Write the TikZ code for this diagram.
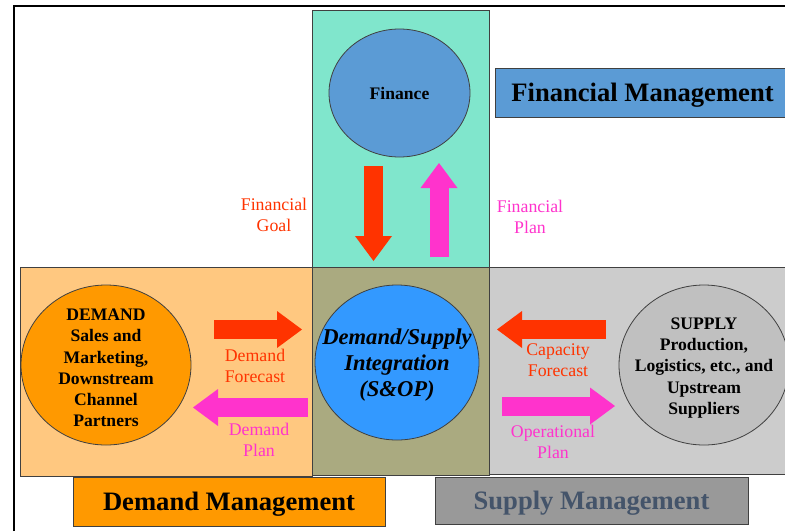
\documentclass[tikz,border=0pt]{standalone}
\usepackage{fontspec}
\setmainfont{Liberation Serif}
\usetikzlibrary{arrows.meta,positioning,shapes.geometric}

\definecolor{finteal}{RGB}{128,230,204}
\definecolor{finblue}{RGB}{91,155,213}
\definecolor{demlight}{RGB}{255,200,128}
\definecolor{demorange}{RGB}{255,153,0}
\definecolor{sopolive}{RGB}{170,170,128}
\definecolor{sopblue}{RGB}{51,153,255}
\definecolor{suplight}{RGB}{204,204,204}
\definecolor{supcircle}{RGB}{192,192,192}
\definecolor{supdark}{RGB}{153,153,153}
\definecolor{suptext}{RGB}{68,84,106}
\definecolor{flowred}{RGB}{255,51,0}
\definecolor{flowpink}{RGB}{255,51,204}

\begin{document}
\begin{tikzpicture}[
  x=1pt, y=-1pt,
  area/.style={draw=black!75, line width=0.8pt},
  circ/.style={ellipse, draw=black!75, line width=0.8pt, inner sep=0pt},
  ctext/.style={align=center, font=\fontsize{17.6}{21.3}\selectfont\bfseries},
  banner/.style={draw=black!75, line width=0.8pt, inner sep=0pt, text depth=0pt,
                 font=\fontsize{26.6}{30}\selectfont\bfseries},
  lab/.style={align=center, font=\fontsize{17.8}{21}\selectfont},
  flow/.style={line width=19pt,
               -{Triangle[length=25pt, width=37pt, line width=0pt]}},
  fred/.style={flow, draw=flowred},
  fpink/.style={flow, draw=flowpink}
]
\useasboundingbox (0,0) rectangle (785,531);

% outer frame
\draw[line width=2pt] (14,531) -- (14,6) -- (785,6);

% management areas
\draw[area, fill=finteal] (312,10) rectangle (489,267);
\draw[area, fill=demlight] (20,267) rectangle (312,476);
\draw[area, fill=suplight] (489,267) rectangle (790,474);
\draw[area, fill=sopolive] (312,267) rectangle (489,475);

% circles
\node[circ, fill=finblue, minimum width=141pt, minimum height=128pt] (fin) at (399.5,93) {};
\node[ctext] (fintxt) at (fin.center) {Finance};

\node[circ, fill=sopblue, minimum width=164pt, minimum height=155pt] (sop) at (397,362.5) {};
\node[ctext, font=\fontsize{22.6}{26}\selectfont\bfseries\itshape] (soptxt) at ([yshift=-3pt]sop.center)
  {Demand/Supply\\Integration\\(S\&OP)};

\node[circ, fill=demorange, minimum width=170pt, minimum height=160pt] (dem) at (106,365) {};
\node[ctext] (demtxt) at ([yshift=-3pt]dem.center)
  {DEMAND\\Sales and\\Marketing,\\Downstream\\Channel\\Partners};

\node[circ, fill=supcircle, minimum width=170pt, minimum height=160pt] (sup) at (704,365) {};
\node[ctext] (suptxt) at ([yshift=-3pt]sup.center)
  {SUPPLY\\Production,\\Logistics, etc., and\\Upstream\\Suppliers};

% banners
\node[banner, fill=finblue, minimum width=295pt, minimum height=49pt] (finmgmt) at (642.5,92.5) {Financial Management};
\node[banner, fill=demorange, minimum width=312pt, minimum height=49pt] (demmgmt) at (229,501.5) {Demand Management};
\node[banner, fill=supdark, text=suptext, minimum width=313pt, minimum height=47pt] (supmgmt) at (591.5,500.5) {Supply Management};

% flow arrows
\coordinate (fgA) at (373.5,166);
\coordinate (fgB) at (373.5,261);
\coordinate (fpA) at (439,257);
\coordinate (fpB) at (439,163);
\coordinate (dfA) at (214,329.5);
\coordinate (dfB) at (302,329.5);
\coordinate (dpA) at (308,407.5);
\coordinate (dpB) at (193,407.5);
\coordinate (cfA) at (606,329.5);
\coordinate (cfB) at (497,329.5);
\coordinate (opA) at (502,406);
\coordinate (opB) at (615,406);

\draw[fred] (fgA) -- (fgB);
\draw[fpink] (fpA) -- (fpB);
\draw[fred] (dfA) -- (dfB);
\draw[fpink] (dpA) -- (dpB);
\draw[fred] (cfA) -- (cfB);
\draw[fpink] (opA) -- (opB);

% flow labels
\node[lab, text=flowred] (fgoal) at (274,215) {Financial\\Goal};
\node[lab, text=flowpink] (fplan) at (530,217) {Financial\\Plan};
\node[lab, text=flowred] (dfcst) at (255,366) {Demand\\Forecast};
\node[lab, text=flowpink] (dplan) at (259,440) {Demand\\Plan};
\node[lab, text=flowred] (cfcst) at (558,360) {Capacity\\Forecast};
\node[lab, text=flowpink] (oplan) at (553,442) {Operational\\Plan};

\end{tikzpicture}
\end{document}
